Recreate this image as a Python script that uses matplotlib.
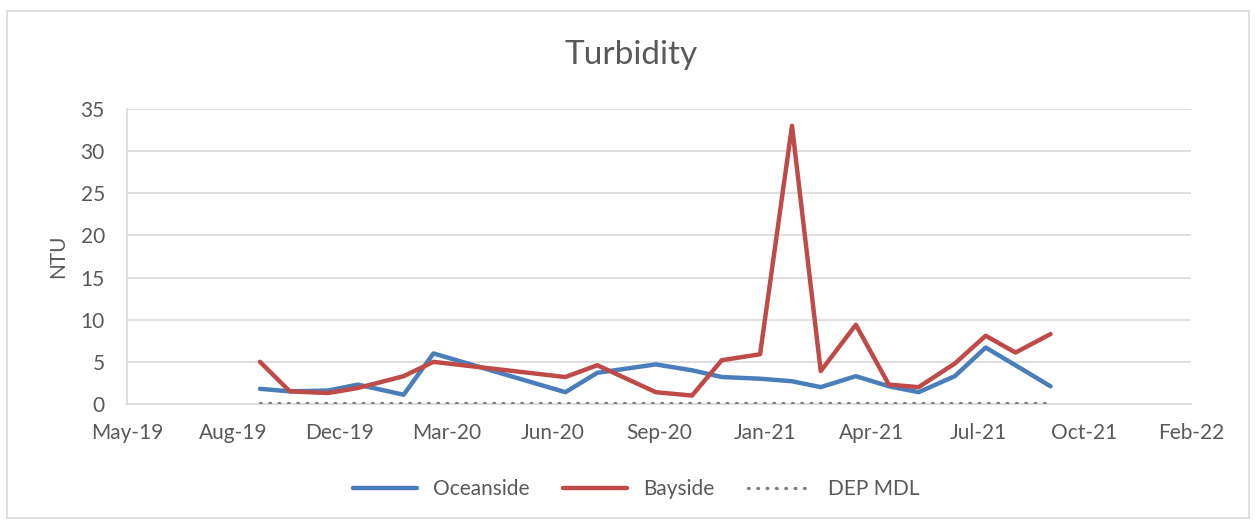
import matplotlib
matplotlib.use("Agg")
import matplotlib.pyplot as plt
import matplotlib.dates as mdates
from matplotlib.patches import Rectangle
import datetime as dt

plt.rcParams['font.family'] = ['Lato', 'DejaVu Sans']

dates = ["2019-09-17", "2019-10-15", "2019-11-20", "2019-12-18", "2020-01-30",
         "2020-02-27", "2020-06-30", "2020-07-30", "2020-09-23", "2020-10-27",
         "2020-11-24", "2020-12-30", "2021-01-29", "2021-02-25", "2021-03-30",
         "2021-04-30", "2021-05-28", "2021-07-01", "2021-07-30", "2021-08-27",
         "2021-09-29"]
oceanside = [1.8, 1.5, 1.6, 2.3, 1.1, 6.0, 1.4, 3.7, 4.7, 4.0, 3.2, 3.0, 2.7,
             2.0, 3.3, 2.1, 1.4, 3.3, 6.7, 4.6, 2.1]
bayside = [5.0, 1.5, 1.3, 1.9, 3.3, 5.0, 3.2, 4.6, 1.4, 1.0, 5.2, 5.9, 33.0,
           3.9, 9.4, 2.3, 2.0, 4.8, 8.1, 6.1, 8.3]
dep_mdl = [0.1] * len(dates)

x_start = "2019-05-15"
x_end = "2022-02-08"
tick_step_days = 100
y_ticks = [0, 5, 10, 15, 20, 25, 30, 35]

W, H = 1255, 520
fig = plt.figure(figsize=(W / 100, H / 100), dpi=100)
fig.patch.set_facecolor('white')
fig.patches.append(Rectangle((7 / W, 2 / H), (1249 - 7) / W, (509 - 2) / H,
                             transform=fig.transFigure, fill=False,
                             edgecolor='#D9D9D9', linewidth=1.2))

ax = fig.add_axes([127 / W, (H - 404) / H, (1191 - 127) / W, (404 - 109) / H])

xd = [dt.datetime.strptime(d, "%Y-%m-%d") for d in dates]
text_col = '#595959'

ax.plot(xd, dep_mdl, color='#7F7F7F', lw=2.4, linestyle=(0, (0.2, 2.6)),
        dash_capstyle='round', label='DEP MDL', zorder=3)
ax.plot(xd, oceanside, color='#4A7EBB', lw=3.2, label='Oceanside',
        solid_joinstyle='round', solid_capstyle='round', zorder=4)
ax.plot(xd, bayside, color='#BE4B48', lw=3.2, label='Bayside',
        solid_joinstyle='round', solid_capstyle='round', zorder=5)

x0 = dt.datetime.strptime(x_start, "%Y-%m-%d")
x1 = dt.datetime.strptime(x_end, "%Y-%m-%d")
ax.set_xlim(x0, x1)
ticks = []
t = x0
while t <= x1:
    ticks.append(t)
    t += dt.timedelta(days=tick_step_days)
ax.set_xticks(ticks)
ax.xaxis.set_major_formatter(mdates.DateFormatter('%b-%y'))

ax.set_ylim(0, 35)
ax.set_yticks(y_ticks)
ax.grid(axis='y', color='#D9D9D9', lw=1.2)
ax.set_axisbelow(True)
for s in ['top', 'right']:
    ax.spines[s].set_visible(False)
ax.spines['left'].set_color('#D9D9D9')
ax.spines['bottom'].set_color('#D9D9D9')
ax.spines['left'].set_linewidth(1.2)
ax.spines['bottom'].set_linewidth(1.2)
ax.tick_params(axis='both', length=0, labelsize=15, labelcolor=text_col)
ax.tick_params(axis='y', pad=16)
ax.tick_params(axis='x', pad=14)

ax.set_ylabel('NTU', fontsize=15, color=text_col)
ax.yaxis.set_label_coords(-(127 - 68) / (1191 - 127), 0.5)

fig.text(631 / W, (H - 55) / H, 'Turbidity', ha='center', va='center',
         fontsize=24, color=text_col)

handles, labels = ax.get_legend_handles_labels()
order = [1, 2, 0]
fig.legend([handles[i] for i in order], [labels[i] for i in order],
           loc='center', bbox_to_anchor=(636 / W, (H - 489) / H), ncol=3,
           frameon=False, fontsize=15, handlelength=3.1, columnspacing=1.6,
           handletextpad=0.75, labelcolor=text_col)

fig.savefig('out.png', dpi=100, facecolor='white')
